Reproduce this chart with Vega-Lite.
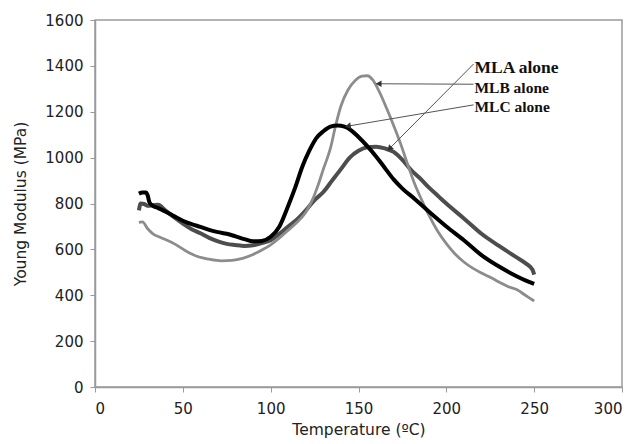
{
  "$schema": "https://vega.github.io/schema/vega-lite/v6.json",
  "autosize": {"type": "none"},
  "width": 527,
  "height": 367,
  "padding": {"left": 95, "top": 20, "right": 16, "bottom": 57},
  "background": "white",
  "config": {
    "view": {"stroke": "#9a9a9a", "strokeWidth": 1.5},
    "axis": {
      "grid": false,
      "domainColor": "#9a9a9a",
      "domainWidth": 1.5,
      "tickColor": "#9a9a9a",
      "tickSize": 5,
      "labelFont": "DejaVu Sans",
      "labelFontSize": 15,
      "labelColor": "#222222",
      "titleFont": "DejaVu Sans",
      "titleFontSize": 15.5,
      "titleFontWeight": "normal",
      "titleColor": "#222222"
    }
  },
  "datasets": {
    "curves": [
      {"s": "light", "T": 25, "E": 718}, {"s": "light", "T": 27, "E": 720}, {"s": "light", "T": 30, "E": 690}, {"s": "light", "T": 33, "E": 668},
      {"s": "light", "T": 38, "E": 650}, {"s": "light", "T": 45, "E": 625}, {"s": "light", "T": 52, "E": 592}, {"s": "light", "T": 58, "E": 570},
      {"s": "light", "T": 65, "E": 557}, {"s": "light", "T": 72, "E": 550}, {"s": "light", "T": 78, "E": 552}, {"s": "light", "T": 84, "E": 561},
      {"s": "light", "T": 90, "E": 578}, {"s": "light", "T": 95, "E": 597}, {"s": "light", "T": 100, "E": 620}, {"s": "light", "T": 105, "E": 650},
      {"s": "light", "T": 110, "E": 684}, {"s": "light", "T": 115, "E": 718}, {"s": "light", "T": 120, "E": 762}, {"s": "light", "T": 124, "E": 820},
      {"s": "light", "T": 127, "E": 880}, {"s": "light", "T": 130, "E": 950}, {"s": "light", "T": 134, "E": 1040}, {"s": "light", "T": 137, "E": 1140},
      {"s": "light", "T": 140, "E": 1225}, {"s": "light", "T": 144, "E": 1295}, {"s": "light", "T": 148, "E": 1335}, {"s": "light", "T": 152, "E": 1355},
      {"s": "light", "T": 155, "E": 1357}, {"s": "light", "T": 158, "E": 1340}, {"s": "light", "T": 162, "E": 1285}, {"s": "light", "T": 166, "E": 1215},
      {"s": "light", "T": 170, "E": 1140}, {"s": "light", "T": 174, "E": 1060}, {"s": "light", "T": 178, "E": 970}, {"s": "light", "T": 182, "E": 885},
      {"s": "light", "T": 186, "E": 815}, {"s": "light", "T": 190, "E": 750}, {"s": "light", "T": 195, "E": 680}, {"s": "light", "T": 200, "E": 625},
      {"s": "light", "T": 205, "E": 580}, {"s": "light", "T": 210, "E": 545}, {"s": "light", "T": 215, "E": 518}, {"s": "light", "T": 220, "E": 497},
      {"s": "light", "T": 225, "E": 478}, {"s": "light", "T": 230, "E": 458}, {"s": "light", "T": 235, "E": 438}, {"s": "light", "T": 240, "E": 425},
      {"s": "light", "T": 245, "E": 400}, {"s": "light", "T": 250, "E": 375},

      {"s": "dark", "T": 25, "E": 770}, {"s": "dark", "T": 26, "E": 800}, {"s": "dark", "T": 28, "E": 798}, {"s": "dark", "T": 30, "E": 790},
      {"s": "dark", "T": 33, "E": 792}, {"s": "dark", "T": 36, "E": 795}, {"s": "dark", "T": 40, "E": 770}, {"s": "dark", "T": 45, "E": 740},
      {"s": "dark", "T": 50, "E": 712}, {"s": "dark", "T": 55, "E": 688}, {"s": "dark", "T": 60, "E": 670}, {"s": "dark", "T": 65, "E": 650},
      {"s": "dark", "T": 70, "E": 635}, {"s": "dark", "T": 75, "E": 624}, {"s": "dark", "T": 80, "E": 619}, {"s": "dark", "T": 85, "E": 615},
      {"s": "dark", "T": 90, "E": 618}, {"s": "dark", "T": 95, "E": 627}, {"s": "dark", "T": 100, "E": 640}, {"s": "dark", "T": 105, "E": 668},
      {"s": "dark", "T": 110, "E": 700}, {"s": "dark", "T": 115, "E": 730}, {"s": "dark", "T": 120, "E": 770}, {"s": "dark", "T": 125, "E": 815},
      {"s": "dark", "T": 130, "E": 850}, {"s": "dark", "T": 135, "E": 900}, {"s": "dark", "T": 140, "E": 950}, {"s": "dark", "T": 145, "E": 1000},
      {"s": "dark", "T": 150, "E": 1030}, {"s": "dark", "T": 155, "E": 1045}, {"s": "dark", "T": 160, "E": 1047}, {"s": "dark", "T": 165, "E": 1040},
      {"s": "dark", "T": 170, "E": 1025}, {"s": "dark", "T": 175, "E": 990}, {"s": "dark", "T": 180, "E": 945}, {"s": "dark", "T": 185, "E": 910},
      {"s": "dark", "T": 190, "E": 870}, {"s": "dark", "T": 195, "E": 835}, {"s": "dark", "T": 200, "E": 800}, {"s": "dark", "T": 210, "E": 735},
      {"s": "dark", "T": 220, "E": 668}, {"s": "dark", "T": 230, "E": 615}, {"s": "dark", "T": 240, "E": 565}, {"s": "dark", "T": 245, "E": 540},
      {"s": "dark", "T": 249, "E": 512}, {"s": "dark", "T": 250, "E": 490},

      {"s": "black", "T": 25, "E": 843}, {"s": "black", "T": 27, "E": 848}, {"s": "black", "T": 29, "E": 848}, {"s": "black", "T": 30, "E": 835},
      {"s": "black", "T": 31, "E": 805}, {"s": "black", "T": 33, "E": 790}, {"s": "black", "T": 36, "E": 780}, {"s": "black", "T": 40, "E": 765},
      {"s": "black", "T": 45, "E": 745}, {"s": "black", "T": 50, "E": 725}, {"s": "black", "T": 55, "E": 710}, {"s": "black", "T": 60, "E": 698},
      {"s": "black", "T": 65, "E": 685}, {"s": "black", "T": 70, "E": 675}, {"s": "black", "T": 75, "E": 668}, {"s": "black", "T": 80, "E": 657},
      {"s": "black", "T": 85, "E": 645}, {"s": "black", "T": 90, "E": 635}, {"s": "black", "T": 95, "E": 637}, {"s": "black", "T": 100, "E": 655},
      {"s": "black", "T": 105, "E": 700}, {"s": "black", "T": 110, "E": 790}, {"s": "black", "T": 114, "E": 870}, {"s": "black", "T": 118, "E": 960},
      {"s": "black", "T": 122, "E": 1030}, {"s": "black", "T": 126, "E": 1085}, {"s": "black", "T": 130, "E": 1115}, {"s": "black", "T": 134, "E": 1135},
      {"s": "black", "T": 138, "E": 1140}, {"s": "black", "T": 142, "E": 1135}, {"s": "black", "T": 146, "E": 1118}, {"s": "black", "T": 150, "E": 1090},
      {"s": "black", "T": 155, "E": 1050}, {"s": "black", "T": 160, "E": 1005}, {"s": "black", "T": 165, "E": 955}, {"s": "black", "T": 170, "E": 905},
      {"s": "black", "T": 175, "E": 865}, {"s": "black", "T": 182, "E": 820}, {"s": "black", "T": 190, "E": 765}, {"s": "black", "T": 200, "E": 700},
      {"s": "black", "T": 210, "E": 640}, {"s": "black", "T": 220, "E": 575}, {"s": "black", "T": 230, "E": 525}, {"s": "black", "T": 240, "E": 483},
      {"s": "black", "T": 245, "E": 465}, {"s": "black", "T": 250, "E": 450}
    ],
    "labels": [
      {"label": "MLA alone", "T": 216, "E": 1392},
      {"label": "MLB alone", "T": 216, "E": 1303},
      {"label": "MLC alone", "T": 216, "E": 1220}
    ],
    "arrows": [
      {"a": "A", "x1": 215.5, "y1": 1408, "x2": 168, "y2": 1042},
      {"a": "B", "x1": 215.5, "y1": 1320, "x2": 162, "y2": 1322},
      {"a": "C", "x1": 215.5, "y1": 1230, "x2": 144.5, "y2": 1138}
    ]
  },
  "layer": [
    {
      "data": {"name": "curves"},
      "transform": [{"filter": "datum.s === 'dark'"}],
      "mark": {"type": "line", "color": "#4d4d4d", "strokeWidth": 4, "interpolate": "monotone"},
      "encoding": {
        "x": {"field": "T", "type": "quantitative", "scale": {"domain": [0, 300]}, "axis": {"values": [0, 50, 100, 150, 200, 250, 300], "format": "d", "title": "Temperature (ºC)", "labelPadding": 9, "titlePadding": 6}},
        "y": {"field": "E", "type": "quantitative", "scale": {"domain": [0, 1600]}, "axis": {"values": [0, 200, 400, 600, 800, 1000, 1200, 1400, 1600], "format": "d", "title": "Young Modulus (MPa)", "labelPadding": 7, "titlePadding": 16}}
      }
    },
    {
      "data": {"name": "curves"},
      "transform": [{"filter": "datum.s === 'light'"}],
      "mark": {"type": "line", "color": "#8c8c8c", "strokeWidth": 2.8, "interpolate": "monotone"},
      "encoding": {
        "x": {"field": "T", "type": "quantitative"},
        "y": {"field": "E", "type": "quantitative"}
      }
    },
    {
      "data": {"name": "curves"},
      "transform": [{"filter": "datum.s === 'black'"}],
      "mark": {"type": "line", "color": "#000000", "strokeWidth": 4, "interpolate": "monotone"},
      "encoding": {
        "x": {"field": "T", "type": "quantitative"},
        "y": {"field": "E", "type": "quantitative"}
      }
    },
    {
      "data": {"name": "arrows"},
      "mark": {"type": "rule", "color": "#555555", "strokeWidth": 1},
      "encoding": {
        "x": {"field": "x1", "type": "quantitative"},
        "y": {"field": "y1", "type": "quantitative"},
        "x2": {"field": "x2"},
        "y2": {"field": "y2"}
      }
    },
    {
      "data": {"name": "arrows"},
      "transform": [{"filter": "datum.a === 'A'"}],
      "mark": {"type": "point", "shape": "triangle", "filled": true, "color": "#333333", "size": 45, "angle": 224, "opacity": 1},
      "encoding": {"x": {"field": "x2", "type": "quantitative"}, "y": {"field": "y2", "type": "quantitative"}}
    },
    {
      "data": {"name": "arrows"},
      "transform": [{"filter": "datum.a === 'B'"}],
      "mark": {"type": "point", "shape": "triangle", "filled": true, "color": "#333333", "size": 45, "angle": 270, "opacity": 1},
      "encoding": {"x": {"field": "x2", "type": "quantitative"}, "y": {"field": "y2", "type": "quantitative"}}
    },
    {
      "data": {"name": "arrows"},
      "transform": [{"filter": "datum.a === 'C'"}],
      "mark": {"type": "point", "shape": "triangle", "filled": true, "color": "#333333", "size": 45, "angle": 260, "opacity": 1},
      "encoding": {"x": {"field": "x2", "type": "quantitative"}, "y": {"field": "y2", "type": "quantitative"}}
    },
    {
      "data": {"name": "labels"},
      "transform": [{"filter": "datum.label === 'MLA alone'"}],
      "mark": {"type": "text", "align": "left", "baseline": "middle", "font": "Liberation Serif", "fontSize": 17.5, "fontWeight": "bold", "color": "#111111"},
      "encoding": {"x": {"field": "T", "type": "quantitative"}, "y": {"field": "E", "type": "quantitative"}, "text": {"field": "label"}}
    },
    {
      "data": {"name": "labels"},
      "transform": [{"filter": "datum.label !== 'MLA alone'"}],
      "mark": {"type": "text", "align": "left", "baseline": "middle", "font": "Liberation Serif", "fontSize": 15.5, "fontWeight": "bold", "color": "#111111"},
      "encoding": {"x": {"field": "T", "type": "quantitative"}, "y": {"field": "E", "type": "quantitative"}, "text": {"field": "label"}}
    }
  ]
}
